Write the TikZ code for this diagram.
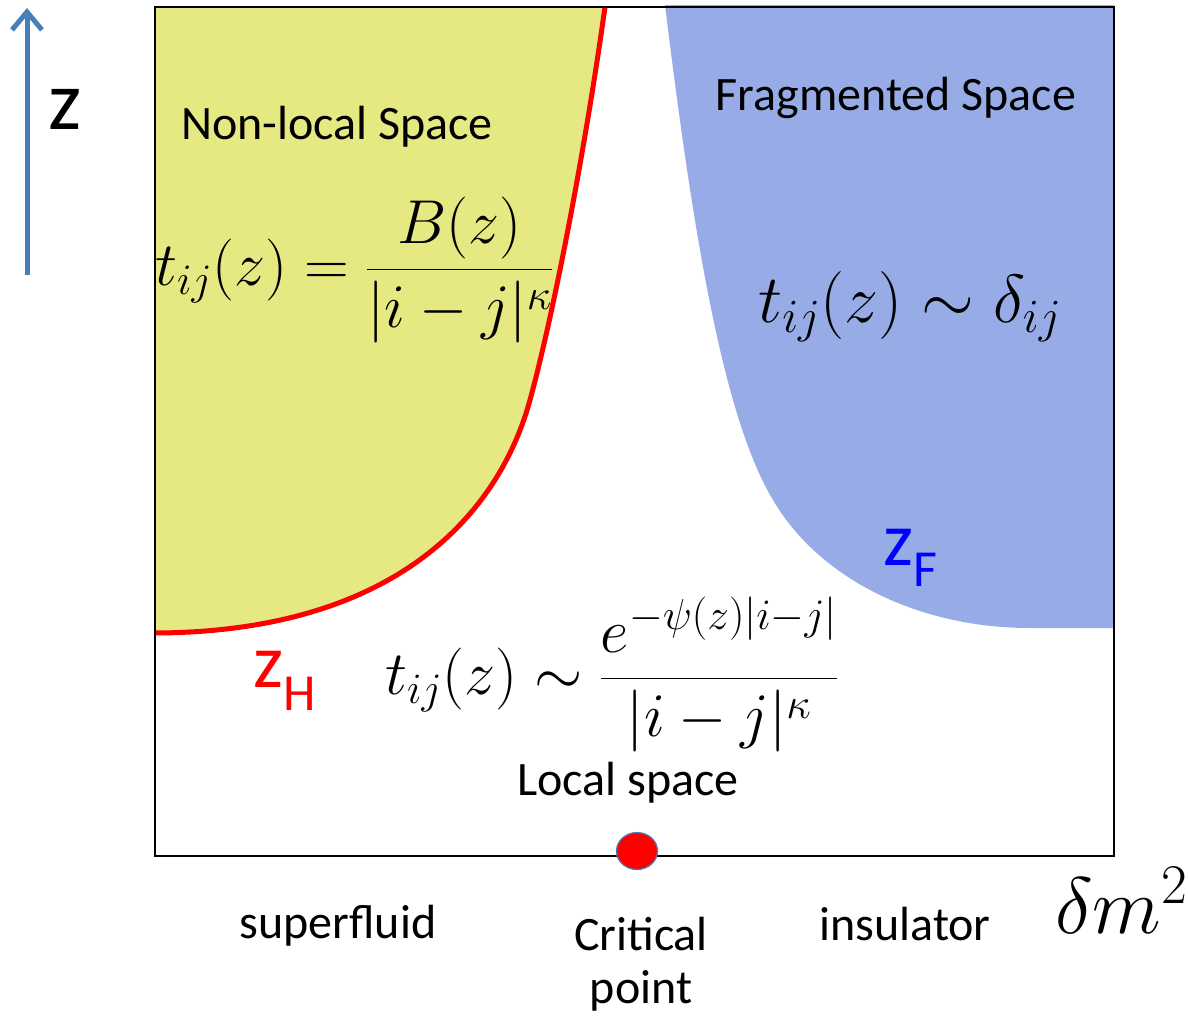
\RequirePackage{fix-cm}
\documentclass[tikz,border=0pt]{standalone}
\usepackage[no-math]{fontspec}
\setmainfont{Carlito}
\usepackage{amsmath}
\usepackage{tikz}
\usetikzlibrary{arrows.meta,positioning,shapes.geometric}
\definecolor{nlyellow}{RGB}{230,232,130}
\definecolor{fgblue}{RGB}{151,172,230}
\definecolor{axisblue}{RGB}{74,126,187}

\begin{document}
\begin{tikzpicture}[
  x=1pt, y=-1pt,
  lbl/.style={inner sep=0pt, anchor=base, font=\fontsize{48}{56}\selectfont},
  eq/.style={inner sep=0pt, anchor=base west, font=\fontsize{62}{72}\selectfont},
  zlbl/.style={inner sep=0pt, anchor=base west, font=\fontsize{76}{80}\selectfont},
  dot/.style={ellipse, draw=axisblue, fill=red, line width=1.2pt,
    minimum width=41pt, minimum height=37pt, inner sep=0pt},
  arr/.style={-{Straight Barb[length=18pt,width=30pt,line width=5pt]}, line width=5pt, draw=axisblue}
]
\useasboundingbox (0,0) rectangle (1188,1015);

% regions
\fill[nlyellow] (155,7) -- (605,7) .. controls (585,150) and (554,312) .. (530,400)
  .. controls (500,510) and (400,632) .. (155,633) -- cycle;
\fill[fgblue] (665,5) .. controls (695,250) and (725,420) .. (773,500)
  .. controls (820,580) and (920,628) .. (1030,628) -- (1114,628) -- (1114,5) -- cycle;
\draw[red, line width=5pt] (605,7) .. controls (585,150) and (554,312) .. (530,400)
  .. controls (500,510) and (400,632) .. (155,633);
\draw[line width=2pt] (155,7) rectangle (1114,856);

% axis
\coordinate (zbot) at (27,275);
\coordinate (ztop) at (27,8);
\draw[arr] (zbot) -- (ztop);
\node[zlbl, font=\fontsize{84}{90}\selectfont] (zax) at (48,129) {z};

\node[lbl] (nonlocal) at (337,139) {Non-local Space};
\node[lbl] (frag)     at (896,110) {Fragmented Space};
\node[lbl] (local)    at (628,795) {Local space};

\node[eq] (tnl) at (155,285) {$t_{ij}(z) = \dfrac{B(z)}{|i-j|^\kappa}$};
\node[eq, font=\fontsize{68}{80}\selectfont] (tfr) at (758,322) {$t_{ij}(z) \sim \delta_{ij}$};
\node[eq] (tloc) at (385,694) {$t_{ij}(z) \sim \dfrac{e^{-\psi(z)|i-j|}}{|i-j|^\kappa}$};

\node[zlbl, text=red]  (zh) at (253,687) {z\raisebox{-23pt}{\fontsize{52}{52}\selectfont H}};
\node[zlbl, text=blue] (zf) at (883,565) {z\raisebox{-21pt}{\fontsize{52}{52}\selectfont F}};

\node[dot] (crit) at (637,851) {};

\node[lbl] (sf)    at (338,938)  {superfluid};
\node[lbl] (critl) at (641,950)  {Critical};
\node[lbl] (pt)    at (641,1003) {point};
\node[lbl] (ins)   at (905,940)  {insulator};
\node[eq, font=\fontsize{80}{90}\selectfont] (dm) at (1055,933) {$\delta m^2$};
\end{tikzpicture}
\end{document}
